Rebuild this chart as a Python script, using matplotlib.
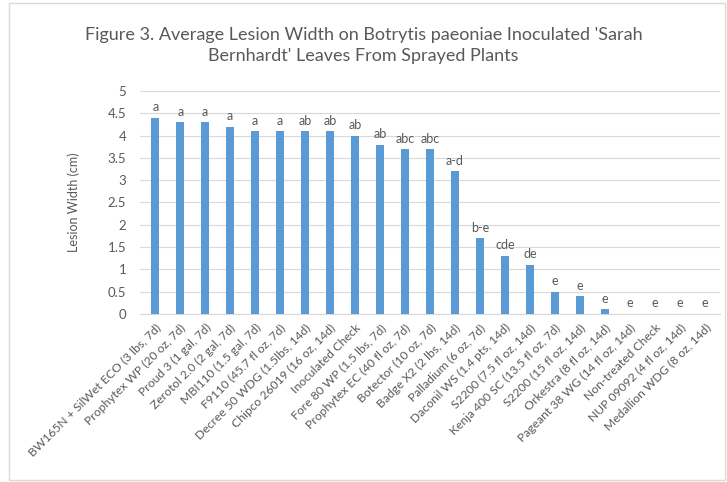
import matplotlib
matplotlib.use("Agg")
import matplotlib.pyplot as plt
from matplotlib.patches import Rectangle

treatments = [
    "BW165N + SilWet ECO (3 lbs, 7d)", "Prophytex WP (20 oz, 7d)", "Proud 3 (1 gal, 7d)",
    "Zerotol 2.0 (2 gal, 7d)", "MBI110 (1.5 gal, 7d)", "F9110 (45.7 fl oz, 7d)",
    "Decree 50 WDG (1.5lbs, 14d)", "Chipco 26019 (16 oz, 14d)", "Inoculated Check",
    "Fore 80 WP (1.5 lbs, 7d)", "Prophytex EC (40 fl oz, 7d)", "Botector (10 oz, 7d)",
    "Badge X2 (2 lbs, 14d)", "Palladium (6 oz, 7d)", "Daconil WS (1.4 pts, 14d)",
    "S2200 (7.5 fl oz, 14d)", "Kenja 400 SC (13.5 fl oz, 7d)", "S2200 (15 fl oz, 14d)",
    "Orkestra (8 fl oz, 14d)", "Pageant 38 WG (14 fl oz, 14d)", "Non-treated Check",
    "NUP 09092 (4 fl oz, 14d)", "Medallion WDG (8 oz, 14d)",
]
widths = [4.4, 4.3, 4.3, 4.2, 4.1, 4.1, 4.1, 4.1, 4.0, 3.8, 3.7, 3.7, 3.2,
          1.7, 1.3, 1.1, 0.5, 0.4, 0.1, 0, 0, 0, 0]
letters = ["a", "a", "a", "a", "a", "a", "ab", "ab", "ab", "ab", "abc", "abc", "a-d",
           "b-e", "cde", "de", "e", "e", "e", "e", "e", "e", "e"]
yticks = [0, 0.5, 1, 1.5, 2, 2.5, 3, 3.5, 4, 4.5, 5]

plt.rcParams['font.family'] = ['Lato', 'DejaVu Sans']
txt = '#595959'

fig = plt.figure(figsize=(7.27, 4.82), dpi=100)
fig.patches.append(Rectangle((0.012, 0.004), 0.985, 0.99, transform=fig.transFigure,
                             fill=False, edgecolor='#d9d9d9', linewidth=1))
ax = fig.add_axes([0.193, 0.349, 0.797, 0.462])

x = range(len(treatments))
ax.bar(x, widths, width=0.32, color='#5B9BD5', zorder=3)
for i, (v, l) in enumerate(zip(widths, letters)):
    ax.text(i, v + 0.1, l, ha='center', va='bottom', fontsize=9, color=txt)

ax.set_ylim(0, 5)
ax.set_xlim(-0.6, len(treatments) - 0.4)
ax.set_yticks(yticks)
ax.set_yticklabels([f"{t:g}" for t in yticks], fontsize=9.5, color=txt)
ax.set_xticks(list(x))
ax.set_xticklabels(treatments, rotation=45, ha='right', rotation_mode='anchor',
                   fontsize=8.7, color=txt)
ax.tick_params(length=0, pad=6)
ax.tick_params(axis='y', pad=10)
ax.yaxis.grid(True, color='#d9d9d9', linewidth=0.8, zorder=0)
for s in ['top', 'right', 'left']:
    ax.spines[s].set_visible(False)
ax.spines['bottom'].set_color('#d9d9d9')
ax.set_ylabel("Lesion Width (cm)", fontsize=9, color=txt, labelpad=20)

fig.text(0.5, 0.945, "Figure 3. Average Lesion Width on Botrytis paeoniae Inoculated 'Sarah\nBernhardt' Leaves From Sprayed Plants",
         ha='center', va='top', fontsize=13, color=txt, linespacing=1.45)

fig.savefig("out.png", dpi=100)
